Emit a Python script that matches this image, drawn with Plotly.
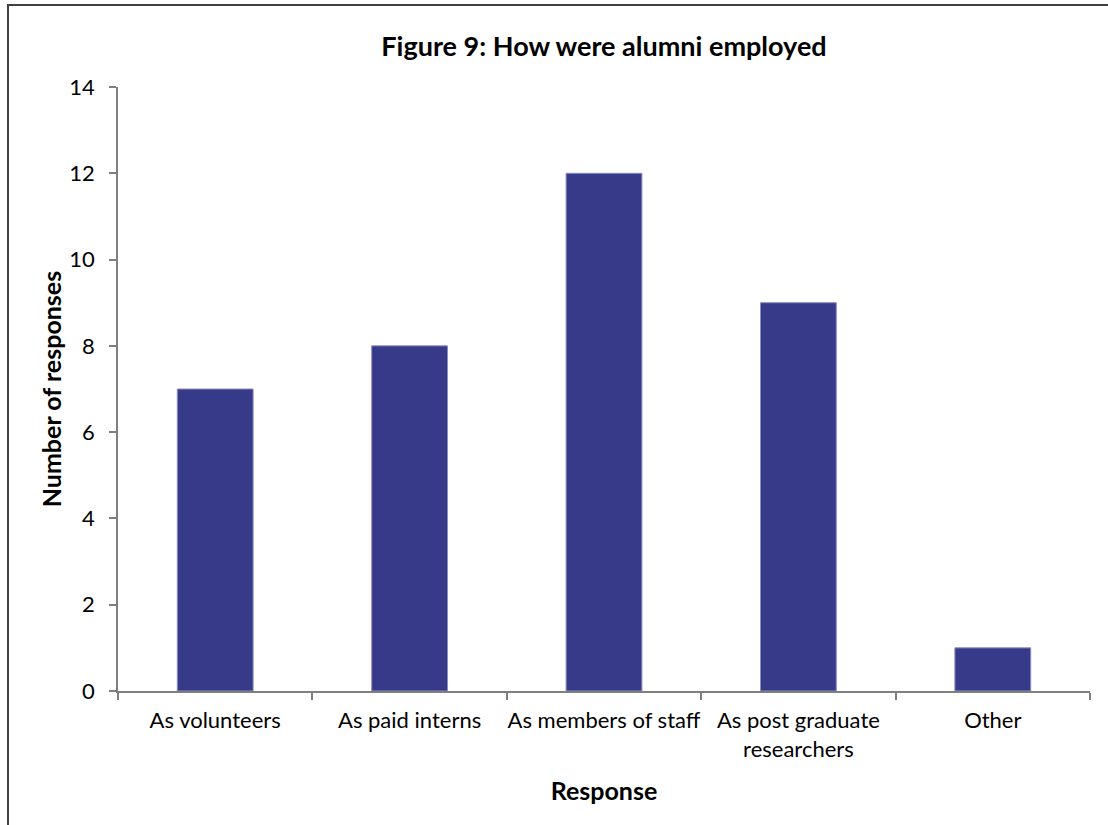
import plotly.graph_objects as go

categories = ["As volunteers", "As paid interns", "As members of staff",
              "As post graduate<br>researchers", "Other"]
responses = [7, 8, 12, 9, 1]
y_ticks = [0, 2, 4, 6, 8, 10, 12, 14]

W, H = 1108, 825
ML, MR, MT, MB = 118, 18, 87, 134
pw, ph = W - ML - MR, H - MT - MB

font = "Lato, 'Open Sans', sans-serif"
axis_col = "#7f7f7f"

fig = go.Figure(go.Bar(
    x=categories, y=responses,
    marker=dict(color="#373a89", line=dict(color="#8c8ec0", width=1)),
    width=0.39,
))

fig.update_layout(
    width=W, height=H,
    margin=dict(l=ML, r=MR, t=MT, b=MB, autoexpand=False),
    paper_bgcolor="white", plot_bgcolor="white",
    showlegend=False,
    title=dict(text="<b>Figure 9: How were alumni employed</b>",
               x=(ML + pw / 2) / W, xanchor="center",
               y=1 - 47 / H, yanchor="middle",
               font=dict(family=font, size=27, color="black")),
    font=dict(family=font, color="black"),
    xaxis=dict(
        showline=True, linecolor=axis_col, linewidth=1.5,
        ticks="outside", tickson="boundaries", ticklen=7,
        tickcolor=axis_col, tickwidth=1.5, tickangle=0, automargin=False,
        tickfont=dict(size=22), showgrid=False,
        ticklabelstandoff=9,
        title=dict(text="<b>Response</b>", font=dict(size=25), standoff=22),
    ),
    yaxis=dict(
        range=[0, 14], tickvals=y_ticks, showline=True,
        linecolor=axis_col, linewidth=1.5, automargin=False,
        ticks="outside", ticklen=7, tickcolor=axis_col, tickwidth=1.5,
        tickfont=dict(size=22), showgrid=False, zeroline=False,
        ticklabelstandoff=10,
        title=dict(text="<b>Number of responses</b>", font=dict(size=25), standoff=1),
    ),
    shapes=[dict(
        type="rect", xref="paper", yref="paper",
        x0=(8 - ML) / pw, x1=(W + 10 - ML) / pw,
        y0=-(H + 10 - MT - ph) / ph, y1=(MT - 5) / ph + 1,
        line=dict(color="#404040", width=2), fillcolor="rgba(0,0,0,0)",
        layer="below",
    )],
)

fig.write_html("out.html")
